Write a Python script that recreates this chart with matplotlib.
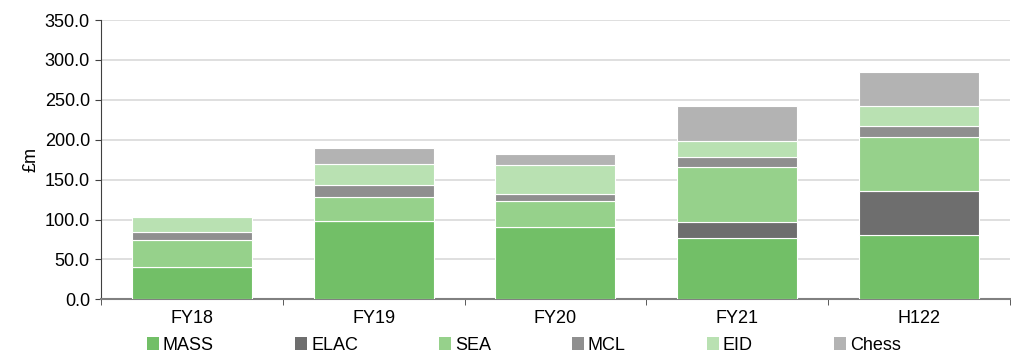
import numpy as np
import matplotlib
matplotlib.use("Agg")
import matplotlib.pyplot as plt
from matplotlib.patches import Patch

plt.rcParams['font.family'] = ['Liberation Sans', 'DejaVu Sans']
plt.rcParams['font.size'] = 13

# revenue by segment, GBP m
periods = ['FY18', 'FY19', 'FY20', 'FY21', 'H122']
segments = ['MASS', 'ELAC', 'SEA', 'MCL', 'EID', 'Chess']
mass = [40.0, 98.3, 90.0, 76.3, 80.4]
elac = [0.0, 0.0, 0.0, 21.2, 55.9]
sea = [34.0, 30.5, 33.8, 68.8, 67.5]
mcl = [10.0, 15.0, 8.7, 12.0, 12.9]
eid = [19.5, 25.4, 36.3, 20.5, 25.9]
chess = [0.0, 20.8, 12.9, 42.9, 42.5]
colours = ['#72bf67', '#6e6e6e', '#96d18b', '#8f8f8f', '#b9e1b2', '#b3b3b3']

series = [mass, elac, sea, mcl, eid, chess]

fig = plt.figure(figsize=(10.12, 3.54), dpi=100)
ax = fig.add_axes([0.0998, 0.1545, 0.8982, 0.789])

x = np.arange(len(periods))
bottom = np.zeros(len(periods))
for name, vals, col in zip(segments, series, colours):
    ax.bar(x, vals, width=0.66, bottom=bottom, color=col,
           edgecolor='white', linewidth=0.8, label=name, zorder=3)
    bottom += np.array(vals)

ax.set_xlim(-0.5, len(periods) - 0.5)
ax.set_ylim(0, 350)
ax.set_yticks(np.arange(0, 351, 50))
ax.set_yticklabels(['%.1f' % v for v in np.arange(0, 351, 50)])
ax.yaxis.grid(True, color='#d9d9d9', linewidth=1.2, zorder=0)
ax.set_ylabel('£m', labelpad=4)

ax.set_xticks(x)
ax.set_xticklabels(periods)
ax.set_xticks(np.arange(-0.5, len(periods), 1.0), minor=True)
ax.tick_params(axis='x', which='major', length=0, pad=8)
ax.tick_params(axis='x', which='minor', length=4, direction='out', color='#404040')
ax.tick_params(axis='y', length=4, direction='out', color='#404040', pad=4)

for s in ['top', 'right']:
    ax.spines[s].set_visible(False)
ax.spines['left'].set_color('#404040')
ax.spines['bottom'].set_color('#808080')
ax.spines['bottom'].set_linewidth(1.5)

handles = [Patch(facecolor=c, edgecolor='none') for c in colours]
fig.legend(handles, segments, loc='lower left', ncol=6, frameon=False,
           bbox_to_anchor=(0.145, 0.0, 0.745, 0.08), mode='expand',
           handlelength=0.7, handleheight=0.7, handletextpad=0.2,
           borderaxespad=0, borderpad=0)

fig.savefig('out.png', dpi=100)
